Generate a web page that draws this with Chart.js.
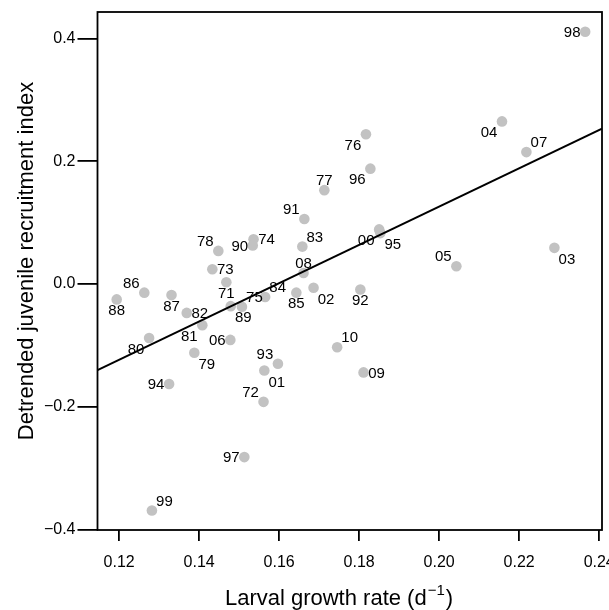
<!DOCTYPE html>
<html>
<head>
<meta charset="utf-8">
<title>Recruitment vs larval growth</title>
<script src="https://cdn.jsdelivr.net/npm/chart.js@4.4.1/dist/chart.umd.min.js"></script>
<style>
  html, body { margin: 0; padding: 0; background: #fff; }
  #wrap { width: 609px; height: 610px; }
</style>
</head>
<body>
<div id="wrap"><canvas id="scatterChart" width="609" height="610"></canvas></div>
<script>
// years (labels), larval growth rate (x), detrended recruitment index (y)
var years = ['71', '72', '73', '74', '75', '76', '77', '78', '79', '80',
             '81', '82', '83', '84', '85', '86', '87', '88', '89', '90',
             '91', '92', '93', '94', '95', '96', '97', '98', '99', '00',
             '01', '02', '03', '04', '05', '06', '07', '08', '09', '10'];
var growthRate = [0.1468, 0.1561, 0.1433, 0.1536, 0.1507, 0.1817, 0.1713, 0.1448, 0.1388, 0.1275,
                  0.1408, 0.1369, 0.1658, 0.1565, 0.1643, 0.1263, 0.1331, 0.1194, 0.1479, 0.1534,
                  0.1663, 0.1803, 0.1597, 0.1325, 0.1853, 0.1828, 0.1513, 0.2365, 0.1282, 0.1850,
                  0.1563, 0.1686, 0.2288, 0.2157, 0.2043, 0.1478, 0.2218, 0.1661, 0.1811, 0.1745];
var recruitIndex = [0.003, -0.192, 0.024, 0.073, -0.037, 0.244, 0.153, 0.054, -0.112, -0.088,
                    -0.067, -0.047, 0.061, -0.021, -0.014, -0.014, -0.018, -0.025, -0.036, 0.063,
                    0.106, -0.009, -0.130, -0.163, 0.083, 0.188, -0.282, 0.411, -0.369, 0.089,
                    -0.141, -0.006, 0.059, 0.265, 0.029, -0.091, 0.215, 0.018, -0.144, -0.103];
// where each year label sits around its dot
var labelSide = ['b', 'tl', 'r', 'r', 'tr', 'bl', 't', 'tl', 'br', 'bl',
                 'bl', 'r', 'tr', 'tr', 'b', 'tl', 'b', 'b', 'br', 'l',
                 'tl', 'b', 'tl', 'l', 'br', 'bl', 'l', 'l', 'tr', 'bl',
                 'br', 'br', 'br', 'bl', 'tl', 'l', 'tr', 't', 'r', 'tr'];

// fitted regression line, end points
var fitX = [0.1146, 0.2407];
var fitY = [-0.1402, 0.2532];

var xTicks = [0.12, 0.14, 0.16, 0.18, 0.20, 0.22, 0.24];
var yTicks = [-0.4, -0.2, 0.0, 0.2, 0.4];

var FONT = '"Liberation Sans", Arial, Helvetica, sans-serif';

var points = [];
for (var i = 0; i < years.length; i++) {
	points.push({ x: growthRate[i], y: recruitIndex[i] });
}
var fitLine = [];
for (var j = 0; j < fitX.length; j++) {
	fitLine.push({ x: fitX[j], y: fitY[j] });
}

var sideOffset = {
	l: [-13, 0], r: [13, 0], t: [0, -10.5], b: [0, 10.5],
	tl: [-13, -10], tr: [12.5, -10], bl: [-13, 10.5], br: [12.5, 11]
};

var yearLabels = {
	id: 'yearLabels',
	afterDatasetsDraw: function(chart) {
		var ctx = chart.ctx;
		var meta = chart.getDatasetMeta(1);
		ctx.save();
		ctx.font = '15px ' + FONT;
		ctx.fillStyle = '#000';
		ctx.textAlign = 'center';
		ctx.textBaseline = 'middle';
		meta.data.forEach(function(el, k) {
			var off = sideOffset[labelSide[k]];
			ctx.fillText(years[k], el.x + off[0], el.y + off[1] + 1);
		});
		ctx.restore();
	}
};

var frameAndTitles = {
	id: 'frameAndTitles',
	afterDraw: function(chart) {
		var ctx = chart.ctx;
		var a = chart.chartArea;
		ctx.save();
		ctx.strokeStyle = '#000';
		ctx.lineWidth = 1.8;
		ctx.strokeRect(a.left, a.top, a.right - a.left, a.bottom - a.top);

		// y title
		ctx.fillStyle = '#000';
		ctx.font = '22px ' + FONT;
		ctx.textAlign = 'center';
		ctx.textBaseline = 'middle';
		ctx.translate(27, 261);
		ctx.rotate(-Math.PI / 2);
		ctx.fillText('Detrended juvenile recruitment index', 0, 0);
		ctx.restore();

		// x title with superscript
		ctx.save();
		ctx.fillStyle = '#000';
		ctx.textBaseline = 'alphabetic';
		ctx.textAlign = 'left';
		var main = 'Larval growth rate (d';
		var sup = '\u22121';
		var close = ')';
		ctx.font = '22px ' + FONT;
		var w1 = ctx.measureText(main).width;
		var w3 = ctx.measureText(close).width;
		ctx.font = '15px ' + FONT;
		var w2 = ctx.measureText(sup).width;
		var x0 = 338 - (w1 + w2 + w3) / 2;
		var base = 605;
		ctx.font = '22px ' + FONT;
		ctx.fillText(main, x0, base);
		ctx.font = '15px ' + FONT;
		ctx.fillText(sup, x0 + w1 + 1, base - 10);
		ctx.font = '22px ' + FONT;
		ctx.fillText(close, x0 + w1 + w2 + 2, base);
		ctx.restore();
	}
};

var ctxS = document.getElementById('scatterChart').getContext('2d');
var myScatter = new Chart(ctxS, {
	type: 'scatter',
	data: {
		datasets: [{
			type: 'line',
			label: 'fit',
			data: fitLine,
			borderColor: '#000',
			borderWidth: 2,
			pointRadius: 0,
			fill: false
		}, {
			label: 'years',
			data: points,
			backgroundColor: '#c2c2c2',
			borderWidth: 0,
			pointRadius: 5.3,
			pointHoverRadius: 5.3
		}]
	},
	options: {
		responsive: false,
		animation: false,
		layout: { padding: { top: 12, right: 7, left: 0, bottom: 0 } },
		plugins: {
			legend: { display: false },
			tooltip: { enabled: false }
		},
		scales: {
			x: {
				type: 'linear',
				min: 0.1146,
				max: 0.2407,
				afterBuildTicks: function(scale) {
					scale.ticks = xTicks.map(function(v) { return { value: v }; });
				},
				afterFit: function(scale) {
					scale.height = 80;
					scale.paddingLeft = 0;
					scale.paddingRight = 0;
				},
				border: { display: false },
				grid: {
					drawOnChartArea: false,
					drawTicks: true,
					tickLength: 11,
					color: '#000',
					lineWidth: 1.8
				},
				ticks: {
					autoSkip: false,
					maxRotation: 0,
					padding: 12,
					color: '#000',
					font: { family: FONT, size: 16 },
					callback: function(v) { return v.toFixed(2); }
				}
			},
			y: {
				type: 'linear',
				min: -0.4008,
				max: 0.4433,
				afterBuildTicks: function(scale) {
					scale.ticks = yTicks.map(function(v) { return { value: v }; });
				},
				afterFit: function(scale) {
					scale.width = 97.5;
					scale.paddingTop = 0;
					scale.paddingBottom = 0;
				},
				border: { display: false },
				grid: {
					drawOnChartArea: false,
					drawTicks: true,
					tickLength: 20,
					color: '#000',
					lineWidth: 1.8
				},
				ticks: {
					autoSkip: false,
					padding: 2,
					color: '#000',
					font: { family: FONT, size: 16 },
					callback: function(v) {
						var s = Math.abs(v).toFixed(1);
						return v < 0 ? '\u2212' + s : s;
					}
				}
			}
		}
	},
	plugins: [yearLabels, frameAndTitles]
});
</script>
</body>
</html>
